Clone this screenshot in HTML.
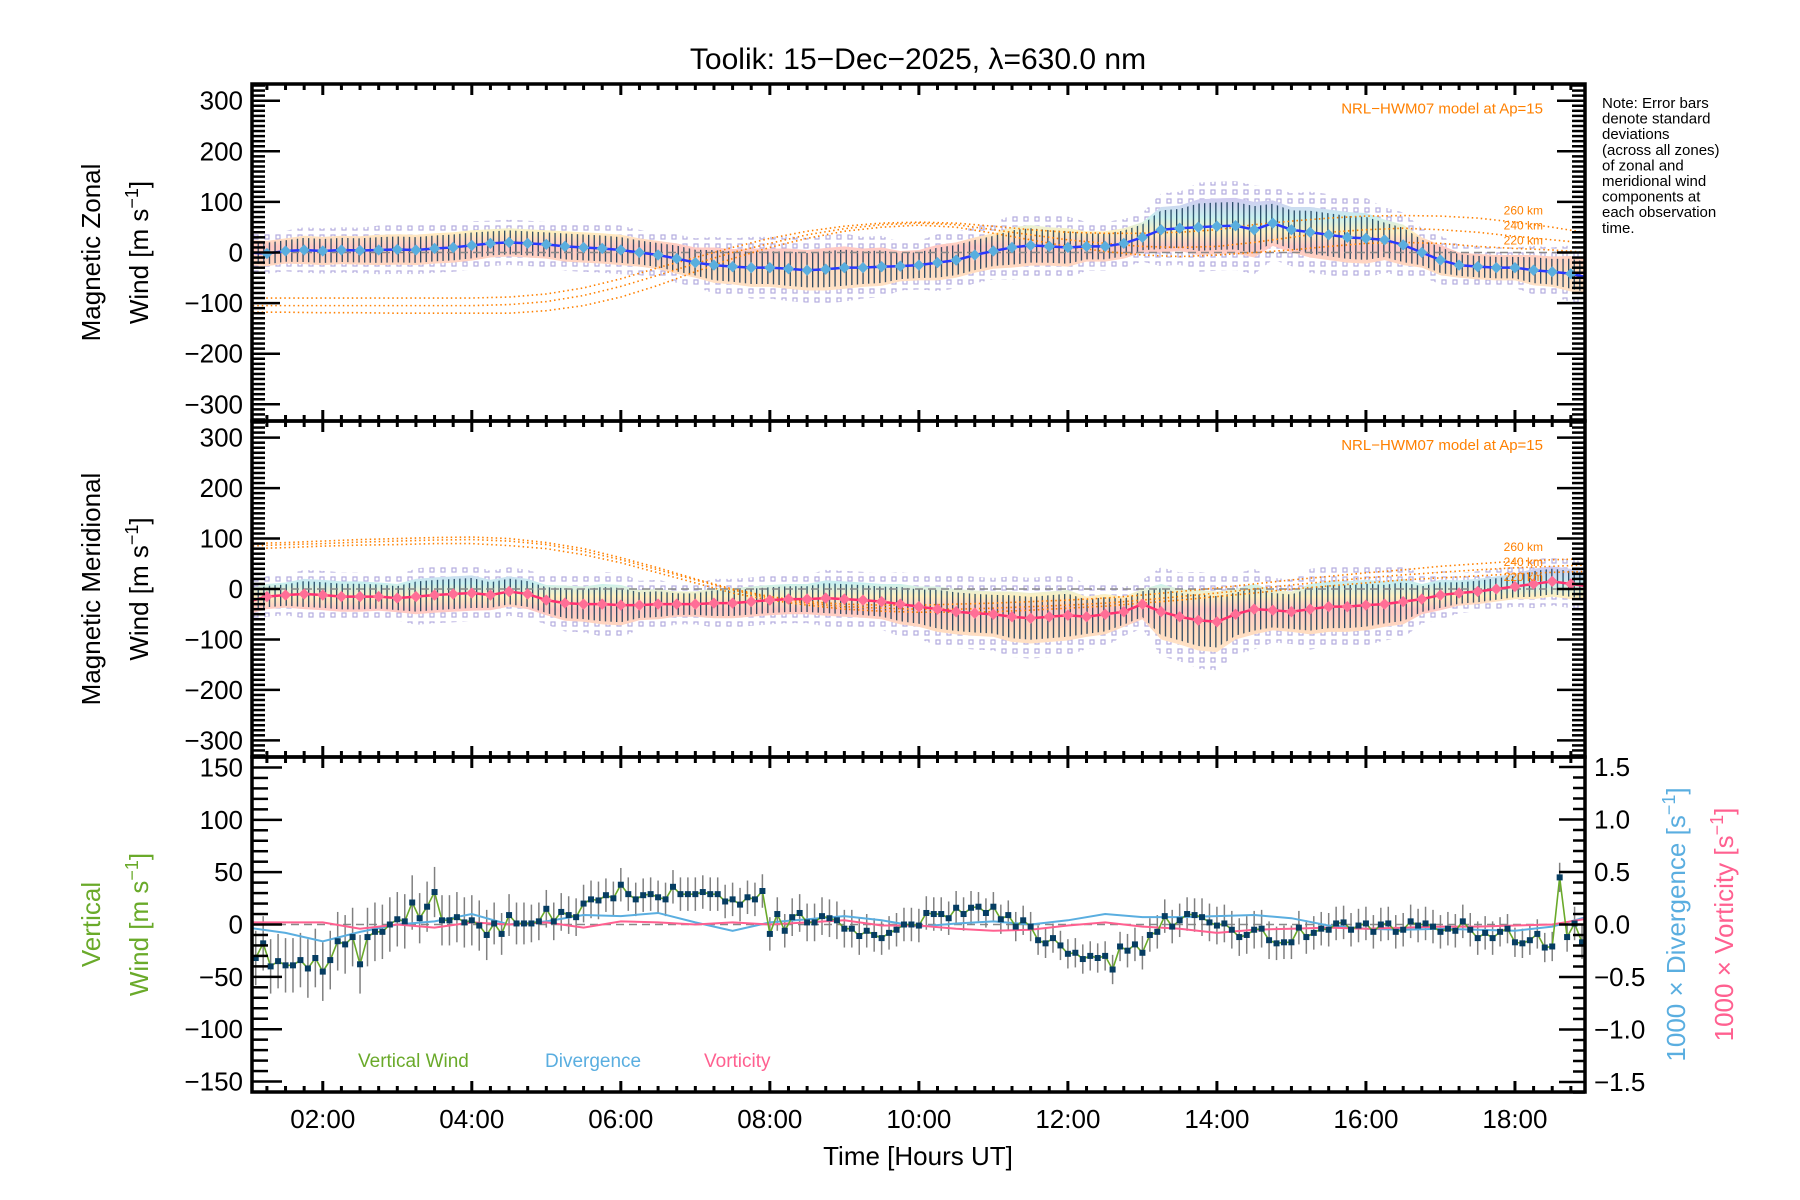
<!DOCTYPE html>
<html><head><meta charset="utf-8"><style>
html,body{margin:0;padding:0;background:#fff}
svg{display:block;font-family:"Liberation Sans",sans-serif}
</style></head><body>
<svg id="chart" width="1800" height="1200" viewBox="0 0 1800 1200" xmlns="http://www.w3.org/2000/svg">
<defs>
<clipPath id="clip1"><rect x="252" y="84" width="1333" height="337"/></clipPath>
<clipPath id="clip2"><rect x="252" y="421" width="1333" height="336"/></clipPath>
<clipPath id="clip3"><rect x="252" y="757" width="1333" height="335"/></clipPath>
<pattern id="stripes" patternUnits="userSpaceOnUse" width="5.6" height="10"><rect x="0" y="0" width="1.3" height="10" fill="#0a3050" opacity="0.85"/></pattern>
<pattern id="squares" patternUnits="userSpaceOnUse" width="11" height="9"><rect x="1" y="1" width="4" height="4" fill="none" stroke="#b4acdf" stroke-width="1.2"/></pattern>
<linearGradient id="band" x1="0" y1="0" x2="0" y2="1">
<stop offset="0" stop-color="#d0c8f0"/><stop offset="0.2" stop-color="#c8f0f0"/><stop offset="0.35" stop-color="#fff0c0"/><stop offset="0.5" stop-color="#ffc8c4"/><stop offset="0.75" stop-color="#ffdcc0"/><stop offset="1" stop-color="#ffe4c8"/>
</linearGradient>
</defs>
<text x="918" y="69" font-size="30" text-anchor="middle">Toolik: 15−Dec−2025, λ=630.0 nm</text>
<g id="layer"></g>
<g font-size="15" fill="#000">
<text x="1602" y="108">Note: Error bars</text>
<text x="1602" y="123.6">denote standard</text>
<text x="1602" y="139.2">deviations</text>
<text x="1602" y="154.8">(across all zones)</text>
<text x="1602" y="170.4">of zonal and</text>
<text x="1602" y="186">meridional wind</text>
<text x="1602" y="201.6">components at</text>
<text x="1602" y="217.2">each observation</text>
<text x="1602" y="232.8">time.</text>
</g>
</svg>
<script>
// ---------- data ----------
const meanStart = 1.0, meanStep = 0.25;
const zonalMean = [0,-2,3,5,3,5,4,5,6,5,8,10,14,18,20,18,16,12,10,8,5,0,-5,-12,-20,-25,-28,-30,-30,-32,-35,-33,-30,-30,-28,-27,-25,-20,-15,-5,3,10,14,12,10,12,12,18,30,45,48,50,52,53,45,58,45,40,35,30,28,25,15,0,-15,-25,-28,-30,-30,-35,-38,-42,-50];
const meridMean = [-25,-15,-12,-10,-12,-15,-15,-15,-18,-15,-12,-10,-8,-12,-5,-10,-22,-28,-30,-30,-32,-32,-30,-30,-30,-28,-28,-25,-22,-20,-20,-18,-20,-22,-25,-30,-35,-40,-45,-48,-50,-55,-58,-55,-52,-55,-50,-45,-30,-45,-55,-62,-65,-50,-40,-42,-45,-40,-35,-35,-32,-30,-25,-20,-12,-8,-5,0,5,10,15,10,5];
const sigStart = 1.0, sigStep = 0.5;
const zonalSigma = [25,25,28,28,30,30,30,28,28,30,30,28,30,35,38,40,42,38,30,35,35,40,38,30,30,45,55,55,45,50,50,40,30,25,25,30,35];
const meridSigma = [25,25,30,30,28,35,35,30,30,35,40,30,25,30,30,30,35,35,40,45,45,50,50,40,30,55,60,50,40,50,50,45,30,25,25,30,30];
const modelStart = 1.0, modelStep = 0.5;
const zonal260 = [-90,-90,-90,-90,-90,-90,-90,-88,-82,-70,-52,-30,-10,10,28,42,52,58,60,58,52,45,40,38,38,40,45,55,62,68,72,73,72,68,60,50,38];
const zonal240 = [-105,-105,-105,-105,-105,-105,-105,-103,-97,-85,-67,-45,-22,0,18,35,47,55,58,55,45,35,25,18,12,10,12,20,30,40,45,48,45,40,32,25,18];
const zonal220 = [-118,-118,-119,-119,-120,-120,-120,-120,-115,-105,-88,-65,-38,-12,10,28,42,50,54,50,38,25,12,2,-5,-8,-5,0,5,12,18,20,18,12,8,5,0];
const merid260 = [90,92,95,98,100,102,103,100,92,80,62,42,20,0,-15,-25,-30,-32,-32,-30,-28,-25,-22,-18,-12,-5,2,10,18,25,32,38,45,50,55,58,60];
const merid240 = [85,88,90,93,95,97,98,95,88,75,58,38,18,-2,-18,-28,-35,-38,-40,-40,-38,-35,-32,-28,-22,-15,-8,0,8,15,22,28,33,38,42,45,48];
const merid220 = [80,82,85,87,88,90,90,86,80,68,52,32,12,-8,-22,-32,-40,-44,-46,-46,-45,-42,-38,-34,-28,-22,-15,-8,0,6,12,18,22,26,30,33,35];
const vwStart = 1.1, vwStep = 0.1;
const vertWind = [-32,-18,-40,-35,-39,-39,-34,-42,-32,-45,-34,-16,-19,-12,-38,-12,-7,-7,0,5,3,21,6,17,31,4,4,7,2,4,-1,-10,1,-9,9,1,1,1,3,15,3,12,9,7,20,24,23,28,25,38,29,24,28,29,26,24,36,29,29,29,31,29,29,22,24,19,26,24,32,-9,10,-6,7,11,2,2,8,6,4,-4,
 -4,-11,-6,-10,-13,-8,-5,0,0,-1,11,10,10,6,16,10,16,17,11,17,5,9,-2,4,-2,-15,-18,-13,-20,-28,-27,-33,-30,-32,-30,-43,-21,-25,-19,-27,-10,-7,8,-2,4,10,9,7,2,-1,
 1,-5,-12,-10,-5,-4,-15,-18,-17,-17,-3,-12,-8,-4,-5,1,2,-5,-1,1,-7,0,1,-7,-5,3,-1,1,-2,-7,-4,-6,3,-5,-13,-8,-13,-7,-4,-17,-18,-15,-9,-22,-21,45,-12,1,-17];
const vwSigma = [26,26,28,28,26,24,24,20,18,18,16,16,16,16,16,18,18,16,16,16,14,14,14,14,16,16,18,18,16,16,16,16,16,16,14,14,16,16];
const divStart = 1.0, divStep = 0.5;
const divergence = [-0.03,-0.08,-0.16,-0.07,0.0,0.03,0.1,0.0,0.03,0.09,0.08,0.11,0.02,-0.06,0.02,0.05,0.08,0.04,-0.02,0.01,0.03,0.0,0.04,0.1,0.07,0.07,0.08,0.09,0.06,-0.01,-0.04,-0.05,-0.04,-0.05,-0.06,-0.02,0.08];
const vorticity = [0.02,0.02,0.02,-0.04,0.0,-0.03,0.02,0.0,0.02,-0.03,0.03,0.02,0.0,0.02,0.0,0.02,0.04,-0.01,-0.01,-0.04,-0.06,-0.05,-0.01,0.02,-0.02,-0.04,-0.08,-0.05,-0.04,-0.03,-0.04,-0.03,-0.02,-0.02,-0.01,0.0,0.06];
const xTickHours = [2,4,6,8,10,12,14,16,18];
const xTickLabels = ["02:00","04:00","06:00","08:00","10:00","12:00","14:00","16:00","18:00"];
const hTickVals = [300,200,100,0,-100,-200,-300];
const vTickVals = [150,100,50,0,-50,-100,-150];
const rTickVals = [1.5,1.0,0.5,0.0,-0.5,-1.0,-1.5];

// ---------- scales ----------
const X0=252, X1=1585, HMIN=1.05, HMAX=18.94;
const xs = h => X0 + (h-HMIN)/(HMAX-HMIN)*(X1-X0);
const panels = [
 {top:84, bot:421, min:-333, max:333},
 {top:421, bot:757, min:-333, max:333},
 {top:757, bot:1092, min:-160, max:160}];
const ys = (p,v) => p.bot - (v-p.min)/(p.max-p.min)*(p.bot-p.top);
const yr = v => 924.5 - v*105;
const NS="http://www.w3.org/2000/svg";
const layer=document.getElementById('layer');
function el(tag, attrs, parent){const e=document.createElementNS(NS,tag);for(const k in attrs)e.setAttribute(k,attrs[k]);(parent||layer).appendChild(e);return e;}
const fmt = v => (v<0?"−":"")+Math.abs(v);

// ---------- wind panels ----------
function windPanel(p, idx, mean, sigma, models, lineColor, dotColor, title1){
 const g=el('g',{'clip-path':`url(#clip${idx})`});
 
 
 const hs = mean.map((v,i)=>meanStart+i*meanStep);
 const sig = i => sigma[Math.min(sigma.length-1, Math.round((hs[i]-sigStart)/sigStep))];
 const poly = k => {let up=[],dn=[];mean.forEach((v,i)=>{up.push(xs(hs[i])+','+ys(p,v+k*sig(i)));dn.unshift(xs(hs[i])+','+ys(p,v-k*sig(i)));});return up.concat(dn).join(' ');};
 const sq=el('polygon',{points:poly(1.6),fill:'url(#squares)'},g);
 
 
 const bd=el('polygon',{points:poly(1.0),fill:'url(#band)'},g);
 
 
 const st=el('polygon',{points:poly(0.85),fill:'url(#stripes)'},g);
 
 
 const z=el('line',{x1:X0,x2:X1,y1:ys(p,0),y2:ys(p,0),stroke:'#888','stroke-dasharray':'8 5','stroke-width':1.5},g);
 
 
 const labs=['260 km','240 km','220 km'];
 models.forEach((m,j)=>{
  const pts=m.map((v,i)=>xs(modelStart+i*modelStep)+','+ys(p,v)).join(' ');
  const l=el('polyline',{points:pts,fill:'none',stroke:'#ff8000','stroke-width':1.6,'stroke-dasharray':'1.5 3'},g);
  
  
 });
 const ln=el('polyline',{points:mean.map((v,i)=>xs(hs[i])+','+ys(p,v)).join(' '),fill:'none',stroke:lineColor,'stroke-width':2.5},g);
 
 
 mean.forEach((v,i)=>{
  const c=el('rect',{x:xs(hs[i])-4,y:ys(p,v)-4,width:8,height:8,fill:dotColor,transform:`rotate(45 ${xs(hs[i])} ${ys(p,v)})`},g);
  
  
 });
 const nl=el('text',{x:1543,y:ys(p,0)-139,'font-size':15,fill:'#ff8000','text-anchor':'end'});
 nl.textContent='NRL−HWM07 model at Ap=15';
 
 
 labs.forEach((t,j)=>{
  const k=el('text',{x:1543,y:ys(p,0)-38+j*15,'font-size':12,fill:'#ff8000','text-anchor':'end'});
  k.textContent=t;
  
  
 });
 for(let v=-330;v<=330;v+=10){
  const y=ys(p,v); const major = v%100===0;
  const L= major?28:13;
  el('line',{x1:X0,x2:X0+L,y1:y,y2:y,stroke:'#000','stroke-width':2.5});
  el('line',{x1:X1,x2:X1-L,y1:y,y2:y,stroke:'#000','stroke-width':2.5});
 }
 hTickVals.forEach(v=>{
  const t=el('text',{x:243,y:ys(p,v)+9,'font-size':26,'text-anchor':'end'});
  t.textContent=fmt(v);
  
  
 });
 const cy=ys(p,0);
 const t1=el('text',{transform:`translate(100 ${cy}) rotate(-90)`,'font-size':26,'text-anchor':'middle'});
 t1.textContent=title1;
 
 
 const t2=el('text',{transform:`translate(148 ${cy}) rotate(-90)`,'font-size':26,'text-anchor':'middle'});
 t2.innerHTML='Wind [m s<tspan dy="-10" font-size="18">−1</tspan><tspan dy="10">]</tspan>';
 
 
}
windPanel(panels[0],1,zonalMean,zonalSigma,[zonal260,zonal240,zonal220],'#2838ff','#5aaede','Magnetic Zonal');
windPanel(panels[1],2,meridMean,meridSigma,[merid260,merid240,merid220],'#ff3070','#ff6e96','Magnetic Meridional');

// ---------- vertical panel ----------
(function(){
 const p=panels[2];
 const g=el('g',{'clip-path':'url(#clip3)'});
 
 
 const z=el('line',{x1:X0,x2:X1,y1:ys(p,0),y2:ys(p,0),stroke:'#888','stroke-dasharray':'8 5','stroke-width':1.5},g);
 
 
 const hs=vertWind.map((v,i)=>vwStart+i*vwStep);
 vertWind.forEach((v,i)=>{
  const s=vwSigma[Math.min(vwSigma.length-1,Math.round((hs[i]-1)/0.5))];
  const b=el('line',{x1:xs(hs[i]),x2:xs(hs[i]),y1:ys(p,v+s),y2:ys(p,v-s),stroke:'#808080','stroke-width':1.5},g);
  
  
 });
 const dv=el('polyline',{points:divergence.map((v,i)=>xs(divStart+i*divStep)+','+yr(v)).join(' '),fill:'none',stroke:'#5aaee0','stroke-width':2},g);
 
 
 const vo=el('polyline',{points:vorticity.map((v,i)=>xs(divStart+i*divStep)+','+yr(v)).join(' '),fill:'none',stroke:'#ff6090','stroke-width':2},g);
 
 
 const vl=el('polyline',{points:vertWind.map((v,i)=>xs(hs[i])+','+ys(p,v)).join(' '),fill:'none',stroke:'#6aaa2a','stroke-width':1.6},g);
 
 
 vertWind.forEach((v,i)=>{
  const r=el('rect',{x:xs(hs[i])-3,y:ys(p,v)-3,width:6,height:6,fill:'#063d62'},g);
  
  
 });
 for(let v=-160;v<=160;v+=10){
  const y=ys(p,v); const major=v%50===0;
  el('line',{x1:X0,x2:X0+(major?30:16),y1:y,y2:y,stroke:'#000','stroke-width':2.5});
 }
 for(let k=-16;k<=16;k++){
  const y=yr(k/10); const major=k%5===0;
  el('line',{x1:X1,x2:X1-(major?26:12),y1:y,y2:y,stroke:'#000','stroke-width':2.5});
 }
 vTickVals.forEach(v=>{
  const t=el('text',{x:243,y:ys(p,v)+9,'font-size':26,'text-anchor':'end'});
  t.textContent=fmt(v);
  
  
 });
 rTickVals.forEach(v=>{
  const t=el('text',{x:1594,y:yr(v)+9,'font-size':26});
  t.textContent=(v<0?'−':'')+Math.abs(v).toFixed(1);
  
  
 });
 const cy=924.5;
 const t1=el('text',{transform:`translate(100 ${cy}) rotate(-90)`,'font-size':26,'text-anchor':'middle',fill:'#6aaa2a'});
 t1.textContent='Vertical';
 
 
 const t2=el('text',{transform:`translate(148 ${cy}) rotate(-90)`,'font-size':26,'text-anchor':'middle',fill:'#6aaa2a'});
 t2.innerHTML='Wind [m s<tspan dy="-10" font-size="18">−1</tspan><tspan dy="10">]</tspan>';
 
 
 const r1=el('text',{transform:`translate(1685 ${cy}) rotate(-90)`,'font-size':26,'text-anchor':'middle',fill:'#5aaee0'});
 r1.innerHTML='1000 × Divergence [s<tspan dy="-10" font-size="18">−1</tspan><tspan dy="10">]</tspan>';
 
 
 const r2=el('text',{transform:`translate(1733 ${cy}) rotate(-90)`,'font-size':26,'text-anchor':'middle',fill:'#ff6090'});
 r2.innerHTML='1000 × Vorticity [s<tspan dy="-10" font-size="18">−1</tspan><tspan dy="10">]</tspan>';
 
 
 const legs=[['Vertical Wind','#6aaa2a',358,'legend-vertical-wind'],['Divergence','#5aaee0',545,'legend-divergence'],['Vorticity','#ff6090',704,'legend-vorticity']];
 legs.forEach(L=>{
  const t=el('text',{x:L[2],y:1067,'font-size':19,fill:L[1]});
  t.textContent=L[0];
  
  
 });
})();

// ---------- frames & x ticks ----------
panels.forEach((p,i)=>{
 const f=el('rect',{x:X0,y:p.top,width:X1-X0,height:p.bot-p.top,fill:'none',stroke:'#000','stroke-width':3.5});
 
 
 for(let h=1.25;h<HMAX;h+=0.25){
  const major=Math.abs(h-Math.round(h))<1e-6 && Math.round(h)%2===0;
  const L=major?11:6;
  el('line',{x1:xs(h),x2:xs(h),y1:p.top,y2:p.top+L,stroke:'#000','stroke-width':3});
  el('line',{x1:xs(h),x2:xs(h),y1:p.bot,y2:p.bot-L,stroke:'#000','stroke-width':3});
 }
});
xTickHours.forEach((h,i)=>{
 const t=el('text',{x:xs(h),y:1128,'font-size':26,'text-anchor':'middle'});
 t.textContent=xTickLabels[i];
 
 
});
const xt=el('text',{x:918,y:1165,'font-size':26,'text-anchor':'middle'});
xt.textContent='Time [Hours UT]';


</script>
</body></html>
